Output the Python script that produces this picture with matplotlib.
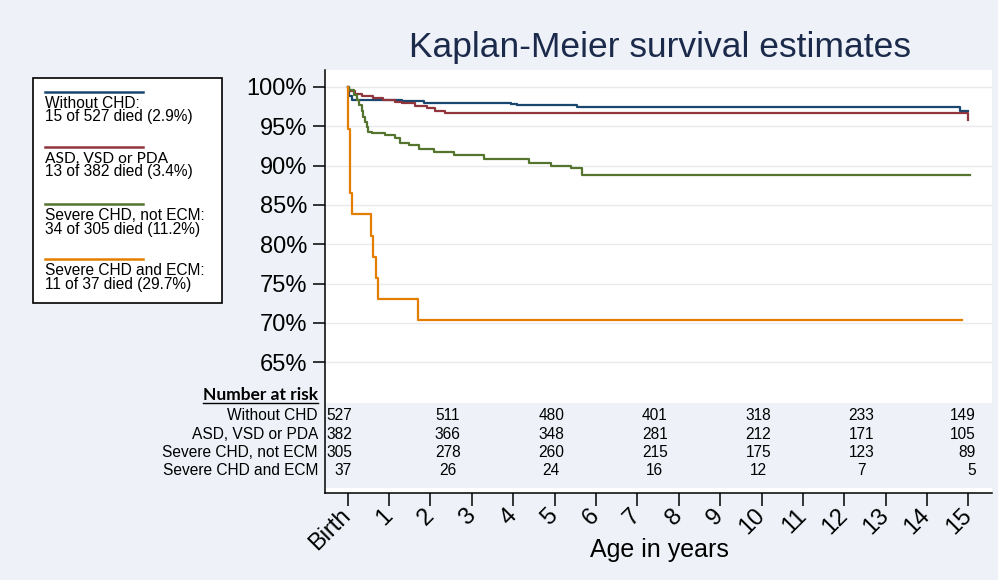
import numpy as np
import matplotlib.pyplot as plt
from matplotlib.patches import Rectangle
from matplotlib.lines import Line2D

W, H = 998, 580
BG = '#eef2f8'

# groups
groups = ["Without CHD", "ASD, VSD or PDA", "Severe CHD, not ECM", "Severe CHD and ECM"]
legend_titles = ["Without CHD:", "ASD, VSD or PDA", "Severe CHD, not ECM:", "Severe CHD and ECM:"]
died = [15, 13, 34, 11]
n_total = [527, 382, 305, 37]
died_pct = [2.9, 3.4, 11.2, 29.7]
colors = ['#1a476f', '#90353b', '#55752f', '#e37e00']

# Kaplan-Meier steps (years, survival %)
t_nochd = [0, 0.02, 0.1, 1.3, 1.84, 3.94, 4.1, 5.54, 14.79, 15.0]
s_nochd = [100, 98.8, 98.4, 98.2, 97.95, 97.8, 97.65, 97.5, 97.0, 97.0]

t_asd = [0, 0.04, 0.18, 0.34, 0.62, 0.86, 1.14, 1.3, 1.63, 1.91, 2.11, 2.35, 15.0]
s_asd = [100, 99.5, 99.1, 98.9, 98.55, 98.4, 98.1, 97.9, 97.6, 97.3, 97.0, 96.7, 95.8]

t_sev = [0, 0.04, 0.14, 0.22, 0.28, 0.34, 0.38, 0.42, 0.46, 0.5, 0.58, 0.9, 1.14,
         1.26, 1.47, 1.73, 2.09, 2.56, 3.3, 4.39, 4.92, 5.39, 5.65, 15.05]
s_sev = [100, 99.6, 99.0, 98.35, 97.7, 96.9, 96.2, 95.6, 94.95, 94.3, 94.1, 93.9, 93.5,
         92.9, 92.6, 92.1, 91.7, 91.3, 90.8, 90.3, 90.0, 89.7, 88.8, 88.8]

t_ecm = [0, 0.015, 0.056, 0.1, 0.56, 0.6, 0.68, 0.72, 1.69, 14.84]
s_ecm = [100, 94.6, 86.5, 83.8, 81.1, 78.4, 75.7, 73.0, 70.3, 70.3]

# number at risk
risk_times = [0, 2.5, 5, 7.5, 10, 12.5, 15]
risk_nochd = [527, 511, 480, 401, 318, 233, 149]
risk_asd = [382, 366, 348, 281, 212, 171, 105]
risk_sev = [305, 278, 260, 215, 175, 123, 89]
risk_ecm = [37, 26, 24, 16, 12, 7, 5]

x_ticks = list(range(16))
x_labels = ['Birth'] + [str(i) for i in range(1, 16)]
y_ticks = list(range(65, 101, 5))


def fx(px):
    return px / W


def fy(py):
    return 1 - py / H


plt.rcParams['font.family'] = ['Liberation Sans', 'DejaVu Sans']

fig = plt.figure(figsize=(W / 100, H / 100), dpi=100, facecolor=BG)
ax = fig.add_axes([fx(325), fy(493), fx(992) - fx(325), fy(70) - fy(493)])
ax.set_facecolor('white')

curves = [(t_nochd, s_nochd), (t_asd, s_asd), (t_sev, s_sev), (t_ecm, s_ecm)]
for (t, s), c in zip(curves, colors):
    ax.step(t, s, where='post', color=c, lw=1.6, zorder=3)

ax.set_xlim(-0.549, 15.57)
ax.set_ylim(48.35, 102.16)
ax.set_yticks(y_ticks)
ax.set_yticklabels([f'{v}%' for v in y_ticks], fontsize=17)
ax.set_xticks(x_ticks)
ax.set_xticklabels(x_labels, fontsize=17, rotation=45, ha='right', va='center',
                   rotation_mode='anchor')
ax.tick_params(axis='y', length=9, width=1.1, pad=4)
ax.tick_params(axis='x', length=9, width=1.1, pad=5)
ax.grid(axis='y', color='#e8eaee', lw=1)
ax.set_axisbelow(True)
for side in ['top', 'right']:
    ax.spines[side].set_visible(False)
for side in ['left', 'bottom']:
    ax.spines[side].set_linewidth(1.1)

# grey band behind the risk table
ax.add_patch(Rectangle((0, 49.0), 1, 59.8 - 49.0, transform=ax.get_yaxis_transform(),
                       facecolor=BG, edgecolor='none', zorder=1))

# risk table
risk_rows = [risk_nochd, risk_asd, risk_sev, risk_ecm]
row_y = [58.15, 55.8, 53.5, 51.15]
for name, counts, y in zip(groups, risk_rows, row_y):
    ax.text(-0.0105, y, name, transform=ax.get_yaxis_transform(), ha='right', va='center',
            fontsize=11.2, clip_on=False)
    for k, (t, v) in enumerate(zip(risk_times, counts)):
        if k == 0:
            ax.text(t + 0.1, y, str(v), ha='right', va='center', fontsize=11.2, zorder=2)
        elif k == len(risk_times) - 1:
            ax.text(t + 0.18, y, str(v), ha='right', va='center', fontsize=11.2, zorder=2)
        else:
            ax.text(t - 0.08, y, str(v), ha='center', va='center', fontsize=11.2, zorder=2)

hdr = fig.text(fx(318), fy(400), 'Number at risk', ha='right', va='baseline',
               fontsize=12.5, fontweight='bold', family=['Lato', 'DejaVu Sans'])
fig.canvas.draw()
bb = hdr.get_window_extent()
fig.add_artist(Line2D([bb.x0 / W, bb.x1 / W], [fy(402.5), fy(402.5)], color='black', lw=1.0))

# title and axis label
fig.text(fx(660), fy(57), 'Kaplan-Meier survival estimates', ha='center', va='baseline',
         fontsize=25.5, color='#1b2a4b')
fig.text(fx(659), fy(550), 'Age in years', ha='center', va='center', fontsize=18)

# legend box
fig.add_artist(Rectangle((fx(33), fy(303)), fx(222) - fx(33), fy(78) - fy(303),
                         transform=fig.transFigure, facecolor='white', edgecolor='black',
                         lw=1.2))
line_y = [92, 147, 204, 259]
for title, d, n, p, c, ly in zip(legend_titles, died, n_total, died_pct, colors, line_y):
    fig.add_artist(Line2D([fx(45), fx(143)], [fy(ly), fy(ly)], color=c, lw=1.8))
    fam = ['Lato', 'DejaVu Sans'] if title.startswith('ASD') else ['Liberation Sans', 'DejaVu Sans']
    fig.text(fx(45), fy(ly + 11.5), title, ha='left', va='center', fontsize=11.2, family=fam)
    fig.text(fx(45), fy(ly + 25), f'{d} of {n} died ({p}%)', ha='left', va='center',
             fontsize=11.2)

fig.savefig('out.png', dpi=100, facecolor=BG)
